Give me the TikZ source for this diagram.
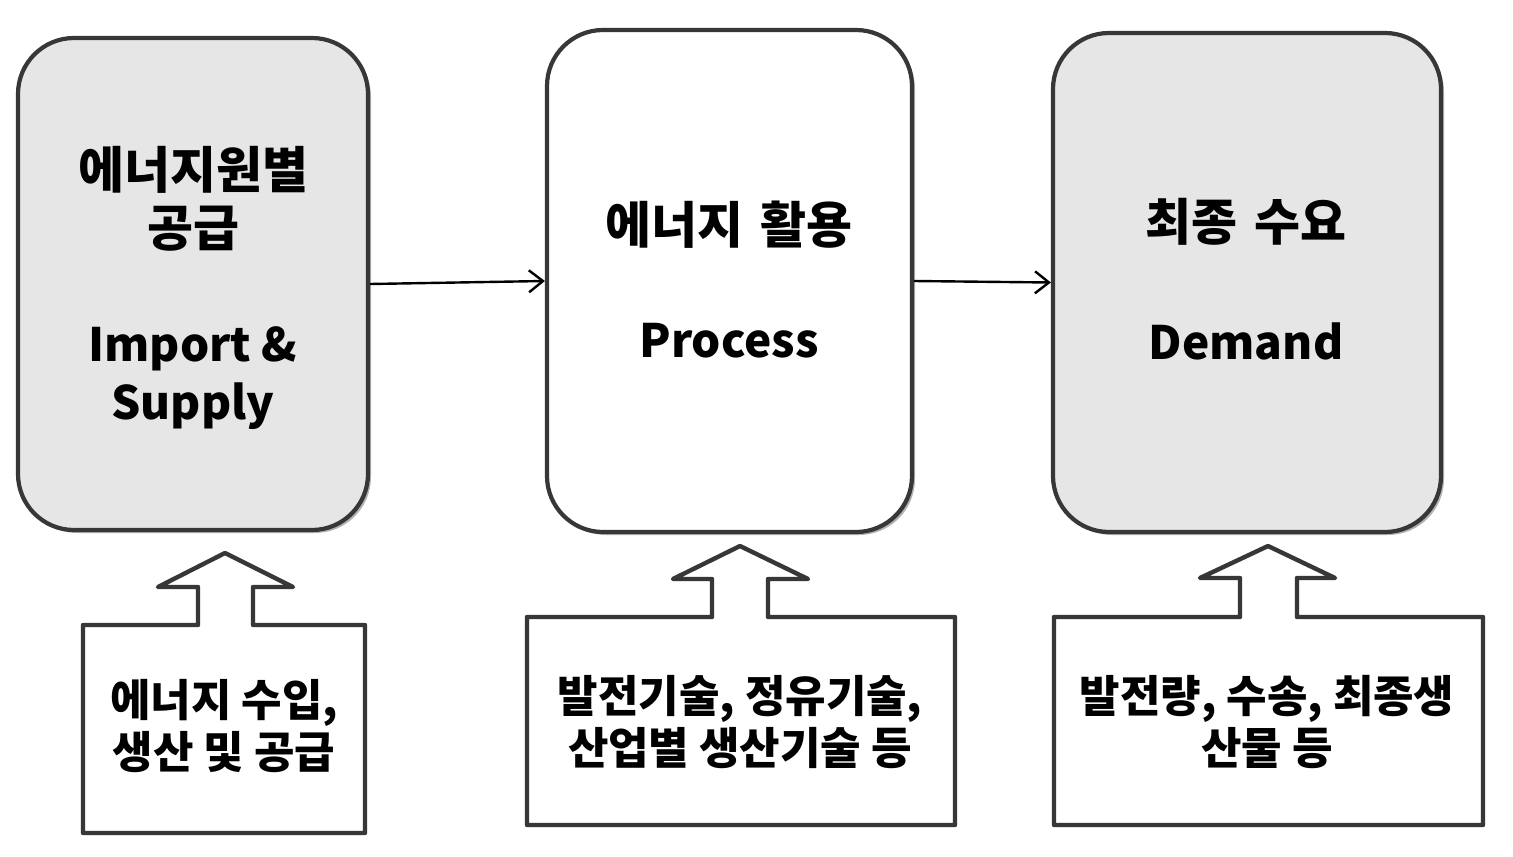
\documentclass[tikz,border=0pt]{standalone}
\usepackage{fontspec}
\setmainfont{Noto Sans CJK KR}
\usetikzlibrary{arrows.meta,shadows}
\definecolor{boxgray}{RGB}{230,230,230}
\definecolor{edgegray}{RGB}{55,55,55}
\tikzset{
  bigbox/.style={draw=edgegray, line width=2.1pt, rounded corners=28pt, inner sep=0pt,
    drop shadow={shadow xshift=1.5pt, shadow yshift=-1.5pt, opacity=0.3, fill=black}},
  titletext/.style={font=\bfseries\fontsize{25}{29}\selectfont, align=center, text=black, inner sep=0pt},
  engtext/.style={font=\bfseries\fontsize{23}{29}\selectfont, align=center, text=black, inner sep=0pt},
  notetext/.style={font=\bfseries\fontsize{22}{26}\selectfont, align=center, text=black, inner sep=0pt},
  callout/.style={draw=edgegray, line width=2.2pt, fill=white, line join=round},
  link/.style={line width=1.2pt, draw=black, -{Straight Barb[length=7pt,width=11pt,line width=1.2pt]}}
}
\begin{document}
\begin{tikzpicture}[x=0.5pt,y=-0.5pt]
\useasboundingbox (0,0) rectangle (1513,856);
\fill[white] (0,0) rectangle (1513,856);

% main boxes
\node[bigbox, fill=boxgray, minimum width=175pt, minimum height=246pt] (b1) at (193,284) {};
\node[bigbox, fill=white, minimum width=182.5pt, minimum height=251pt] (b2) at (729.5,281) {};
\node[bigbox, fill=boxgray, minimum width=194pt, minimum height=249.5pt] (b3) at (1247,282.5) {};

% box texts
\node[titletext] (t1k) at (193,199) {에너지원별\\공급};
\node[engtext] (t1e) at (193,378) {Import \&\\Supply};

\node[titletext] (t2k) at (729,225) {에너지\hspace{3pt} 활용};
\node[engtext] (t2e) at (729,341) {Process};

\node[titletext] (t3k) at (1246,222) {최종\hspace{3pt} 수요};
\node[engtext] (t3e) at (1246,341) {Demand};

% connectors
\draw[link] (b1.east) -- (b2.west);
\draw[link] (b2.east) -- (b3.west);

% callouts
\draw[callout] (83,625) -- (198,625) -- (198,587) -- (158,587) -- (225,553) -- (293,587)
  -- (253,587) -- (253,625) -- (365,625) -- (365,833) -- (83,833) -- cycle;
\node[notetext] (c1) at (224,726) {에너지 수입,\\생산 및 공급};

\draw[callout] (527,617) -- (712,617) -- (712,579) -- (673,579) -- (740,546) -- (808,579)
  -- (768,579) -- (768,617) -- (955,617) -- (955,825) -- (527,825) -- cycle;
\node[notetext] (c2) at (740,722) {발전기술, 정유기술,\\산업별 생산기술 등};

\draw[callout] (1054,617) -- (1240,617) -- (1240,578) -- (1200,578) -- (1268,546) -- (1335,578)
  -- (1297,578) -- (1297,617) -- (1483,617) -- (1483,825) -- (1054,825) -- cycle;
\node[notetext] (c3) at (1267,722) {발전량, 수송, 최종생\\산물 등};
\end{tikzpicture}
\end{document}
